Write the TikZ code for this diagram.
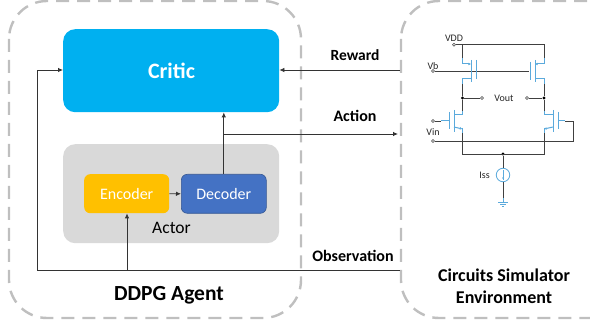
\documentclass[tikz,border=0pt]{standalone}
\usepackage{fontspec}
\setmainfont{Carlito}
\usetikzlibrary{arrows.meta}
\definecolor{dashgray}{RGB}{191,191,191}
\definecolor{criticblue}{RGB}{0,176,240}
\definecolor{actorgray}{RGB}{217,217,217}
\definecolor{encyellow}{RGB}{255,192,0}
\definecolor{decblue}{RGB}{68,114,196}
\definecolor{wirec}{RGB}{64,64,64}
\definecolor{mosc}{RGB}{91,170,220}
\tikzset{
  x=1pt,y=-1pt,
  group/.style={draw=dashgray,line width=2.4pt,dash pattern=on 13pt off 8pt},
  block/.style={rounded corners=#1,inner sep=0pt,anchor=north west},
  conn/.style={draw=black!80,line width=0.8pt,-{Latex[length=5pt,width=4.5pt]}},
  plain/.style={draw=black!80,line width=0.8pt},
  lab/.style={font=\fontsize{16}{18}\selectfont\bfseries,text=black},
  wire/.style={draw=wirec,line width=0.9pt},
  mos/.style={draw=mosc,line width=1pt},
  term/.style={circle,draw=wirec,fill=white,line width=0.6pt,inner sep=0pt,minimum size=3pt},
  dotn/.style={circle,fill=black,inner sep=0pt,minimum size=3.4pt},
  tiny/.style={font=\fontsize{10}{11}\selectfont,text=black!85,inner sep=0pt},
}
\begin{document}
\begin{tikzpicture}
\useasboundingbox (0,0) rectangle (590,326);
\clip (0,0) rectangle (590,326);
% groups
\draw[group,rounded corners=38pt] (9,1) rectangle (301,318);
\draw[group,rounded corners=38pt] (401,1) rectangle (630,318);
% blocks
\node[block=12pt,fill=criticblue,minimum width=216pt,minimum height=83pt] (critic) at (63,29) {};
\node[font=\fontsize{22}{24}\selectfont\bfseries,text=white] (critictext) at (171.5,71) {Critic};
\node[block=12pt,fill=actorgray,minimum width=216pt,minimum height=99pt] (actor) at (63,144) {};
\node[font=\fontsize{17.5}{20}\selectfont,text=black] (actortext) at (171.5,228) {Actor};
\node[block=6pt,fill=encyellow,minimum width=85pt,minimum height=39pt,font=\fontsize{16}{18}\selectfont,text=white] (enc) at (84,174) {Encoder};
\node[block=6pt,fill=decblue,draw=decblue!75!black,line width=0.6pt,minimum width=85pt,minimum height=39pt,font=\fontsize{16}{18}\selectfont,text=white] (dec) at (181,174) {Decoder};
% labels
\node[lab,font=\fontsize{15.5}{18}\selectfont\bfseries] (reward) at (355,55.5) {Reward};
\node[lab] (action) at (355,115.5) {Action};
\node[lab] (obs) at (353,256) {Observation};
\node[font=\fontsize{21.5}{24}\selectfont\bfseries] (agent) at (169,295) {DDPG Agent};
\node[font=\fontsize{18}{22}\selectfont\bfseries,align=center] (envtext) at (504,286) {Circuits Simulator\\Environment};
% connector anchors
\coordinate (rewardR) at (400,70);
\coordinate (actionR) at (398,134);
\coordinate (actionJ) at (223.5,134);
\coordinate (obsR) at (400,270);
\coordinate (obsL) at (37,270);
\coordinate (obsU) at (37,70);
\coordinate (obsJ) at (127,270);
% connectors
\draw[conn] (rewardR) -- (critic.east |- rewardR);
\draw[conn] (dec.north) -- (critic.south -| dec.north);
\draw[conn] (actionJ) -- (actionR);
\draw[conn] (enc.east) -- (dec.west);
\draw[plain] (obsR) -- (obsL) -- (obsU);
\draw[conn] (obsU) -- (critic.west |- obsU);
\draw[conn] (obsJ) -- (enc.south -| obsJ);
% circuit terminals
\node[term] (tvdd) at (454,44.7) {};
\node[term] (tvb) at (433,71) {};
\node[term] (tvin1) at (433,121) {};
\node[term] (tvin2) at (433,141) {};
\node[term] (tvol) at (482,98) {};
\node[term] (tvor) at (527,98) {};
\node[dotn] (jl) at (462.5,98) {};
\node[dotn] (jr) at (544,98) {};
\node[dotn] (jb) at (503,154) {};
\node[circle,draw=mosc,line width=0.8pt,minimum size=13.5pt,inner sep=0pt] (iss) at (503,175) {};
\node[tiny] (lvdd) at (454,38) {VDD};
\node[tiny] (lvb) at (433,66) {Vb};
\node[tiny] (lvin) at (433,132.5) {Vin};
\node[tiny] (lvout) at (504,98.5) {Vout};
\node[tiny] (liss) at (484.5,175) {Iss};
% circuit wires
\coordinate (tr) at (544,44.7);
\coordinate (tl) at (462.5,44.7);
\draw[wire] (tvdd) -- (tr) -- (544,58);
\draw[wire] (tl) -- (462.5,58);
\draw[wire] (tvb) -- (529,71);
\draw[wire] (462.5,84) -- (jl) -- (462.5,111);
\draw[wire] (544,84) -- (jr) -- (544,111);
\draw[wire] (jl) -- (tvol);
\draw[wire] (tvor) -- (jr);
\draw[wire] (tvin1) -- (441,121);
\draw[wire] (462.5,133) -- (462.5,154) -- (544,154) -- (544,133);
\draw[wire] (tvin2) -- (573,141) -- (573,121) -- (565,121);
\draw[wire] (jb) -- (iss.north);
\draw[wire] (iss.south) -- (503,200);
% transistors
\draw[mos] (462.5,58) -- (462.5,64);
\draw[mos,-{Latex[length=2.6pt,width=2.6pt]}] (462.5,64) -- (471,64);
\draw[mos] (471,60) -- (471,82);
\draw[mos] (476,60) -- (476,79);
\draw[mos] (471,79) -- (462.5,79) -- (462.5,84);
\draw[mos] (544,58) -- (544,64);
\draw[mos,-{Latex[length=2.6pt,width=2.6pt]}] (544,64) -- (535,64);
\draw[mos] (535,60) -- (535,82);
\draw[mos] (530,62) -- (530,80);
\draw[mos] (535,79) -- (544,79) -- (544,84);
\draw[mos] (462.5,111) -- (462.5,115) -- (454,115);
\draw[mos] (454,110) -- (454,132);
\draw[mos] (449,112) -- (449,129);
\draw[mos] (441,121) -- (449,121);
\draw[mos,-{Latex[length=2.6pt,width=2.6pt]}] (454,127) -- (462.5,129);
\draw[mos] (462.5,128) -- (462.5,133);
\draw[mos] (544,111) -- (544,115) -- (553,115);
\draw[mos] (553,110) -- (553,132);
\draw[mos] (558,112) -- (558,129);
\draw[mos] (558,121) -- (565,121);
\draw[mos,-{Latex[length=2.6pt,width=2.6pt]}] (553,127) -- (544,129);
\draw[mos] (544,128) -- (544,133);
% current source
\draw[mos] (503,170) -- (503,180);
\fill[mosc] (503,178) circle (1pt);
% ground
\draw[mos] (503,198) -- (503,203);
\draw[mos] (498,203) -- (508,203);
\draw[mos] (500,205) -- (506,205);
\draw[mos] (502,207) -- (504,207);
\end{tikzpicture}
\end{document}
